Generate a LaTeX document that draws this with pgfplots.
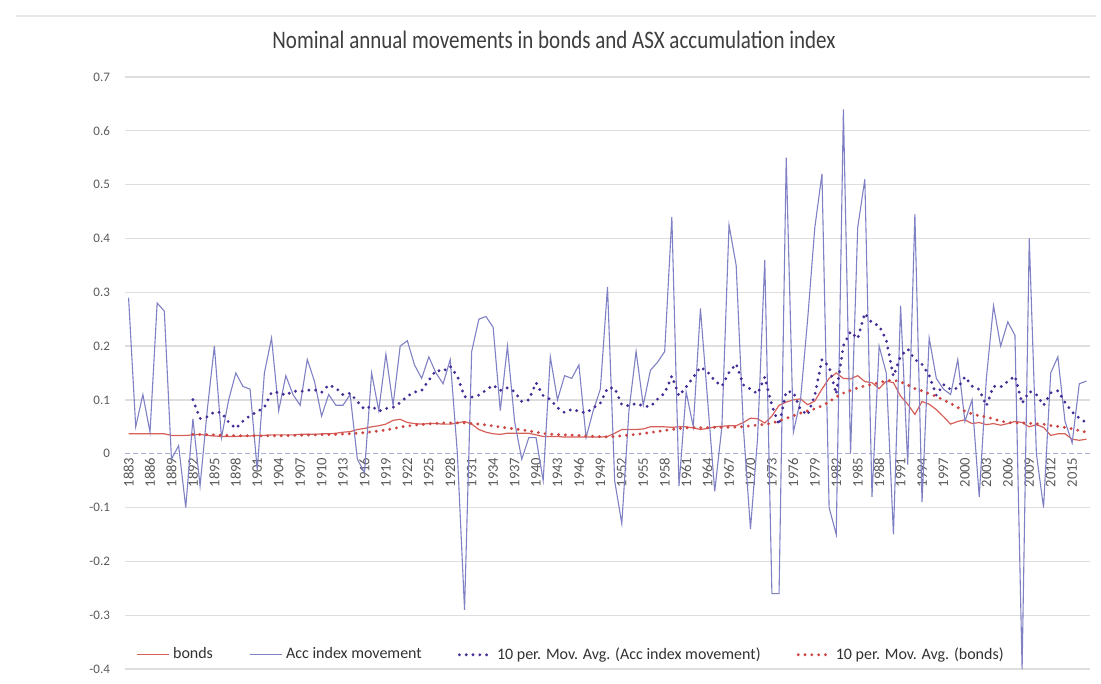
\documentclass[border=0pt]{standalone}
\usepackage{pgfplots}
\usepackage{pgfplotstable}
\pgfplotsset{compat=1.18}
\usepackage{fontspec}
\setmainfont{Carlito}
\definecolor{bondc}{RGB}{214,96,90}
\definecolor{accc}{RGB}{128,128,196}
\definecolor{maacc}{RGB}{70,45,150}
\definecolor{mabond}{RGB}{205,70,65}
\definecolor{gridc}{RGB}{222,222,222}
\definecolor{zeroc}{RGB}{165,178,210}
\definecolor{txtc}{RGB}{89,89,89}

\pgfplotstableread{
year acc bonds
1883 0.29 0.037
1884 0.05 0.037
1885 0.11 0.037
1886 0.04 0.037
1887 0.28 0.037
1888 0.265 0.037
1889 -0.01 0.034
1890 0.015 0.034
1891 -0.10 0.034
1892 0.065 0.035
1893 -0.06 0.036
1894 0.08 0.034
1895 0.20 0.033
1896 0.03 0.032
1897 0.10 0.032
1898 0.15 0.032
1899 0.125 0.033
1900 0.12 0.033
1901 -0.03 0.034
1902 0.15 0.034
1903 0.215 0.035
1904 0.08 0.035
1905 0.145 0.035
1906 0.11 0.035
1907 0.09 0.036
1908 0.175 0.036
1909 0.135 0.036
1910 0.07 0.037
1911 0.11 0.037
1912 0.09 0.038
1913 0.09 0.040
1914 0.11 0.041
1915 -0.01 0.045
1916 -0.035 0.047
1917 0.15 0.050
1918 0.08 0.052
1919 0.185 0.055
1920 0.09 0.062
1921 0.20 0.064
1922 0.21 0.058
1923 0.165 0.056
1924 0.14 0.055
1925 0.18 0.056
1926 0.15 0.056
1927 0.13 0.055
1928 0.175 0.055
1929 0.0 0.057
1930 -0.29 0.060
1931 0.19 0.055
1932 0.25 0.045
1933 0.255 0.040
1934 0.235 0.037
1935 0.08 0.036
1936 0.20 0.038
1937 0.06 0.038
1938 -0.01 0.038
1939 0.03 0.038
1940 0.03 0.035
1941 -0.05 0.032
1942 0.18 0.032
1943 0.10 0.032
1944 0.145 0.031
1945 0.14 0.031
1946 0.165 0.031
1947 0.03 0.031
1948 0.08 0.031
1949 0.12 0.031
1950 0.31 0.032
1951 -0.05 0.038
1952 -0.13 0.045
1953 0.08 0.045
1954 0.19 0.045
1955 0.09 0.046
1956 0.155 0.050
1957 0.17 0.050
1958 0.19 0.050
1959 0.44 0.049
1960 -0.06 0.050
1961 0.115 0.050
1962 0.05 0.048
1963 0.27 0.045
1964 0.10 0.047
1965 -0.07 0.050
1966 0.05 0.051
1967 0.425 0.052
1968 0.35 0.052
1969 0.05 0.058
1970 -0.14 0.066
1971 0.03 0.065
1972 0.36 0.057
1973 -0.26 0.070
1974 -0.26 0.090
1975 0.55 0.096
1976 0.04 0.100
1977 0.10 0.102
1978 0.25 0.091
1979 0.42 0.098
1980 0.52 0.120
1981 -0.10 0.140
1982 -0.15 0.150
1983 0.64 0.140
1984 0.00 0.139
1985 0.42 0.145
1986 0.51 0.134
1987 -0.08 0.132
1988 0.20 0.121
1989 0.15 0.135
1990 -0.15 0.132
1991 0.275 0.107
1992 -0.02 0.092
1993 0.445 0.073
1994 -0.09 0.097
1995 0.215 0.092
1996 0.14 0.082
1997 0.12 0.069
1998 0.11 0.055
1999 0.175 0.060
2000 0.06 0.063
2001 0.10 0.056
2002 -0.08 0.058
2003 0.14 0.054
2004 0.275 0.056
2005 0.20 0.053
2006 0.245 0.056
2007 0.22 0.060
2008 -0.40 0.058
2009 0.40 0.050
2010 0.00 0.054
2011 -0.10 0.049
2012 0.15 0.034
2013 0.18 0.037
2014 0.06 0.037
2015 0.02 0.027
2016 0.13 0.025
2017 0.135 0.027
}\maindata

\pgfplotstableread{
year maacc mabonds
1892 0.1005 0.0359
1893 0.0655 0.0358
1894 0.0685 0.0355
1895 0.0775 0.0351
1896 0.0765 0.0346
1897 0.0585 0.0341
1898 0.047 0.0336
1899 0.0605 0.0335
1900 0.071 0.0334
1901 0.078 0.0334
1902 0.0865 0.0333
1903 0.114 0.0332
1904 0.114 0.0333
1905 0.1085 0.0335
1906 0.1165 0.0338
1907 0.1155 0.0342
1908 0.118 0.0346
1909 0.119 0.0349
1910 0.114 0.0353
1911 0.128 0.0356
1912 0.122 0.036
1913 0.1095 0.0365
1914 0.1125 0.0371
1915 0.097 0.0381
1916 0.0825 0.0393
1917 0.0885 0.0407
1918 0.079 0.0423
1919 0.084 0.0442
1920 0.086 0.0467
1921 0.095 0.0494
1922 0.107 0.0514
1923 0.1145 0.053
1924 0.1175 0.0544
1925 0.1365 0.0555
1926 0.155 0.0564
1927 0.153 0.0569
1928 0.1625 0.0572
1929 0.144 0.0574
1930 0.106 0.0572
1931 0.105 0.0563
1932 0.109 0.055
1933 0.118 0.0534
1934 0.1275 0.0516
1935 0.1175 0.0496
1936 0.1225 0.0478
1937 0.1155 0.0461
1938 0.097 0.0444
1939 0.100 0.0425
1940 0.132 0.040
1941 0.108 0.0377
1942 0.101 0.0364
1943 0.0855 0.0356
1944 0.0765 0.035
1945 0.0825 0.0345
1946 0.079 0.0338
1947 0.076 0.0331
1948 0.085 0.0324
1949 0.094 0.0317
1950 0.122 0.0314
1951 0.122 0.032
1952 0.091 0.0333
1953 0.089 0.0346
1954 0.0935 0.036
1955 0.0885 0.0375
1956 0.0875 0.0394
1957 0.1015 0.0413
1958 0.1125 0.0432
1959 0.1445 0.045
1960 0.1075 0.0468
1961 0.124 0.048
1962 0.142 0.0483
1963 0.161 0.0483
1964 0.152 0.0485
1965 0.136 0.0489
1966 0.1255 0.049
1967 0.151 0.0492
1968 0.167 0.0494
1969 0.128 0.0503
1970 0.120 0.0519
1971 0.1115 0.0534
1972 0.1425 0.0543
1973 0.0895 0.0568
1974 0.0535 0.0611
1975 0.1155 0.0657
1976 0.1145 0.0706
1977 0.082 0.0756
1978 0.072 0.0795
1979 0.109 0.0835
1980 0.175 0.0889
1981 0.162 0.0964
1982 0.111 0.1057
1983 0.201 0.1127
1984 0.227 0.1176
1985 0.214 0.1225
1986 0.261 0.1259
1987 0.243 0.1289
1988 0.238 0.1319
1989 0.211 0.1356
1990 0.144 0.1368
1991 0.1815 0.1335
1992 0.1945 0.1277
1993 0.175 0.121
1994 0.166 0.1168
1995 0.1455 0.1115
1996 0.1085 0.1063
1997 0.1285 0.100
1998 0.1195 0.0934
1999 0.122 0.0859
2000 0.143 0.079
2001 0.1255 0.0739
2002 0.1195 0.0705
2003 0.089 0.0686
2004 0.1255 0.0645
2005 0.124 0.0606
2006 0.1345 0.058
2007 0.1445 0.0571
2008 0.0935 0.0574
2009 0.116 0.0564
2010 0.110 0.0555
2011 0.090 0.0548
2012 0.113 0.0524
2013 0.117 0.0507
2014 0.0955 0.0488
2015 0.0775 0.0462
2016 0.066 0.0431
2017 0.0575 0.0398
}\madata

\begin{document}
\begin{tikzpicture}
\path[use as bounding box] (0,0) rectangle (550.5pt,342pt);
\draw[gray!18, line width=0.8pt] (8pt,334pt) -- (548pt,334pt);
\node[font=\fontsize{10.5}{12}\selectfont, text=txtc!70!black, anchor=center, yscale=1.2] at (277pt,322pt) {Nominal annual movements in bonds and ASX accumulation index};
\begin{axis}[
  at={(62.5pt,7.5pt)}, anchor=south west,
  scale only axis, width=482.5pt, height=296pt,
  xmin=1882.5, xmax=2017.5, ymin=-0.4, ymax=0.7,
  axis x line=middle, axis y line=left,
  x axis line style={-, color=zeroc, line width=0.6pt, dash pattern=on 2.5pt off 1.5pt},
  y axis line style={draw=none},
  major tick length=0pt,
  tick style={draw=none},
  xtick={1883,1886,...,2015},
  x tick label style={rotate=90, anchor=east, font=\fontsize{7.3}{8}\selectfont, text=txtc, inner sep=1.8pt,
    /pgf/number format/1000 sep={}, /pgf/number format/assume math mode=true},
  ytick={-0.4,-0.3,-0.2,-0.1,0.1,0.2,0.3,0.4,0.5,0.6,0.7},
  yticklabels={-0.4,-0.3,-0.2,-0.1,0.1,0.2,0.3,0.4,0.5,0.6,0.7},
  extra y ticks={0}, extra y tick labels={0},
  extra y tick style={ymajorgrids=false},
  y tick label style={font=\fontsize{6.5}{7}\selectfont, text=txtc, xshift=-4pt},
  ymajorgrids=true,
  major grid style={gridc, line width=0.6pt},
  clip=false,
  legend style={at={(0.463,0.024)}, anchor=center, draw=none, fill=none,
    font=\fontsize{8}{9}\selectfont, text=txtc!55!black, legend columns=4,
    /tikz/every even column/.append style={column sep=16pt}},
  legend cell align=left,
  legend image code/.code={\draw[#1] (0pt,0pt) -- (16pt,0pt);},
]
\addplot[bondc, line width=0.6pt] table[x=year, y=bonds] {\maindata};
\addlegendentry{bonds}
\addplot[accc, line width=0.55pt] table[x=year, y=acc] {\maindata};
\addlegendentry{Acc index movement}
\addplot[maacc, line width=1.6pt, line cap=round, dash pattern=on 0pt off 3.4pt] table[x=year, y=maacc] {\madata};
\addlegendentry{10 per. Mov. Avg. (Acc index movement)}
\addplot[mabond, line width=1.6pt, line cap=round, dash pattern=on 0pt off 3.4pt] table[x=year, y=mabonds] {\madata};
\addlegendentry{10 per. Mov. Avg. (bonds)}
\end{axis}
\end{tikzpicture}
\end{document}
